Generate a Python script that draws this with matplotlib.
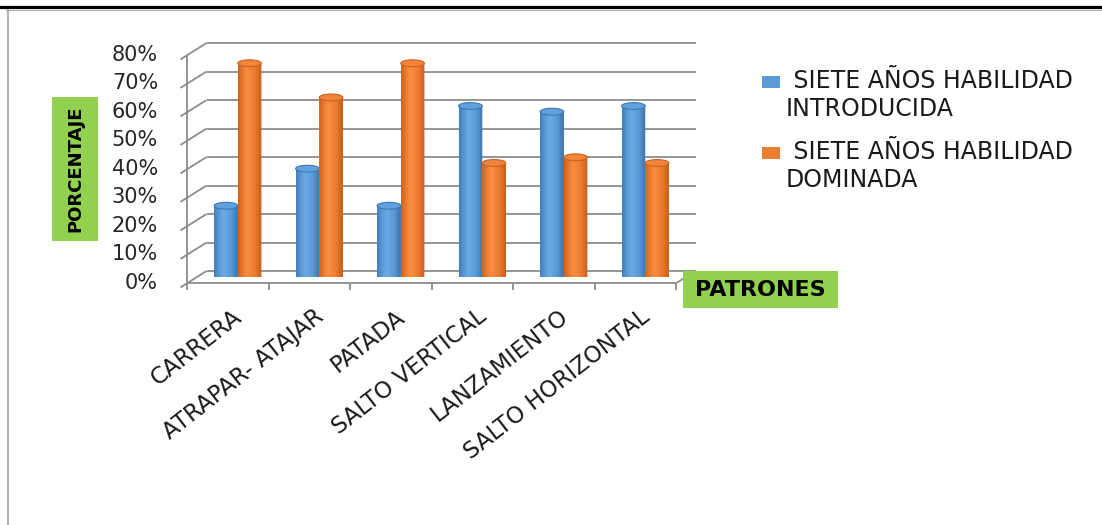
import numpy as np
import matplotlib
matplotlib.use("Agg")
import matplotlib.pyplot as plt
from matplotlib.patches import Ellipse, Rectangle, PathPatch
from matplotlib.path import Path
from matplotlib.colors import LinearSegmentedColormap
from matplotlib.lines import Line2D

# ---- data -------------------------------------------------------------
categories = ["CARRERA", "ATRAPAR- ATAJAR", "PATADA", "SALTO VERTICAL",
              "LANZAMIENTO", "SALTO HORIZONTAL"]
introducida = [25, 38, 25, 60, 58, 60]
dominada = [75, 63, 75, 40, 42, 40]
series_labels = [" SIETE AÑOS HABILIDAD\nINTRODUCIDA",
                 " SIETE AÑOS HABILIDAD\nDOMINADA"]
y_ticks = [0, 10, 20, 30, 40, 50, 60, 70, 80]

plt.rcParams['font.family'] = ['DejaVu Sans']

W, H = 1102, 525
fig = plt.figure(figsize=(W / 100, H / 100), dpi=100)
fig.patch.set_facecolor('white')

# axes = middle depth plane of the pseudo-3D box
ax = fig.add_axes([197 / W, (H - 277) / H, 489 / W, 228 / H])
ax.axis('off')

DX, DY = 0.117, 2.1          # half depth offset (category units, % units)
grid_col = '#8c8c8c'
gkw = dict(color=grid_col, lw=1.3, clip_on=False, zorder=1,
           solid_capstyle='butt')
n = len(categories)

# back wall and side wall gridlines
for t in y_ticks:
    ax.plot([DX, n + DX], [t + DY, t + DY], **gkw)
    ax.plot([-DX - 0.086, DX], [t - DY - 1.55, t + DY], **gkw)
# front vertical axis
ax.plot([-DX, -DX], [-DY, y_ticks[-1] - DY], **gkw)
# floor front edge, right diagonal, category ticks
ax.plot([-DX, n - DX], [-DY, -DY], **gkw)
ax.plot([n - DX, n + DX], [-DY, DY], **gkw)
for i in range(n + 1):
    ax.plot([i - DX, i - DX], [-DY, -DY - 2.3], **gkw)

# y tick labels
for t in y_ticks:
    ax.text(-DX - 0.36, t - DY, f"{t}%", ha='right', va='center',
            fontsize=15, color='#262626')

# x tick labels
for i, lab in enumerate(categories):
    ax.text(i + 0.52, -13.0, lab, rotation=38, rotation_mode='anchor',
            ha='right', va='center', fontsize=16.5, color='#1a1a1a')

# ---- cylinders ---------------------------------------------------------
blue_cm = LinearSegmentedColormap.from_list(
    'bl', [(0, '#3f7dbf'), (0.22, '#5b9bd5'), (0.4, '#6cace6'),
           (0.72, '#5a99d3'), (1, '#3a70aa')])
orange_cm = LinearSegmentedColormap.from_list(
    'or', [(0, '#c9621f'), (0.22, '#ed7d31'), (0.4, '#f78f44'),
           (0.72, '#ec7a2e'), (1, '#c45d1c')])

bw = 0.29
E = 2.4   # ellipse height in % units
x = np.arange(n) + 0.5
series = [
    (introducida, -bw / 2, '#5b9bd5', blue_cm, '#62a2dc', '#3d78b5'),
    (dominada, bw / 2, '#ed7d31', orange_cm, '#f2853a', '#c8631f'),
]
grad = np.linspace(0, 1, 256).reshape(1, -1)
for k, (vals, off, base, cm, capc, edgec) in enumerate(series):
    bars = ax.bar(x + off, vals, width=bw, color=base, zorder=3 + k,
                  linewidth=0)
    for rect in bars:
        x0, w, h = rect.get_x(), rect.get_width(), rect.get_height()
        xc = x0 + w / 2
        ang = np.linspace(np.pi, 2 * np.pi, 40)
        verts = [(x0, h), (x0, 0)]
        verts += list(zip(xc + w / 2 * np.cos(ang), E / 2 * np.sin(ang)))
        verts += [(x0 + w, h), (x0, h)]
        codes = [Path.MOVETO] + [Path.LINETO] * (len(verts) - 2) + [Path.CLOSEPOLY]
        body = PathPatch(Path(verts, codes), transform=ax.transData,
                         facecolor='none', edgecolor='none')
        im = ax.imshow(grad, cmap=cm, extent=[x0, x0 + w, -E / 2 - 0.2, h],
                       aspect='auto', zorder=3 + k, interpolation='bilinear')
        im.set_clip_path(body)
        im.set_clip_box(None)
        cap = Ellipse((xc, h), w, E, facecolor=capc, edgecolor=edgec,
                      lw=0.8, zorder=3.5 + k, clip_on=False)
        ax.add_patch(cap)

ax.set_xlim(0, n)
ax.set_ylim(0, y_ticks[-1])

# ---- axis titles in green boxes ---------------------------------------
green = '#92D050'
fig.patches.append(Rectangle((52 / W, 1 - 241 / H), 46 / W, 144 / H,
                             transform=fig.transFigure, facecolor=green,
                             edgecolor='none', zorder=0))
fig.text(75 / W, 1 - 169 / H, "PORCENTAJE", rotation=90, ha='center',
         va='center', fontsize=13, fontweight='bold', color='black')

fig.patches.append(Rectangle((683 / W, 1 - 308 / H), 155 / W, 37 / H,
                             transform=fig.transFigure, facecolor=green,
                             edgecolor='none', zorder=0))
fig.text(760 / W, 1 - 290 / H, "PATRONES", ha='center', va='center',
         fontsize=16, fontweight='bold', color='black')

# ---- legend -------------------------------------------------------------
legend_rows = [(76, '#5b9bd5'), (147, '#ed7d31')]
for (ytop, col), lab in zip(legend_rows, series_labels):
    fig.patches.append(Rectangle((762 / W, 1 - (ytop + 12) / H), 18 / W,
                                 12 / H, transform=fig.transFigure,
                                 facecolor=col, edgecolor='none'))
    fig.text(786 / W, 1 - (ytop - 7) / H, lab, ha='left', va='top',
             fontsize=17, color='#1a1a1a', linespacing=1.2)

# ---- frame lines -------------------------------------------------------
fig.add_artist(Line2D([0, 1], [1 - 6.5 / H, 1 - 6.5 / H],
                      transform=fig.transFigure, color='black', lw=2.3))
fig.add_artist(Line2D([6 / W, 1], [1 - 10 / H, 1 - 10 / H],
                      transform=fig.transFigure, color='#b4b4b4', lw=0.9))
fig.add_artist(Line2D([7.5 / W, 7.5 / W], [0, 1 - 10 / H],
                      transform=fig.transFigure, color='#9a9a9a', lw=1.1))

fig.savefig("out.png", dpi=100, facecolor='white')
